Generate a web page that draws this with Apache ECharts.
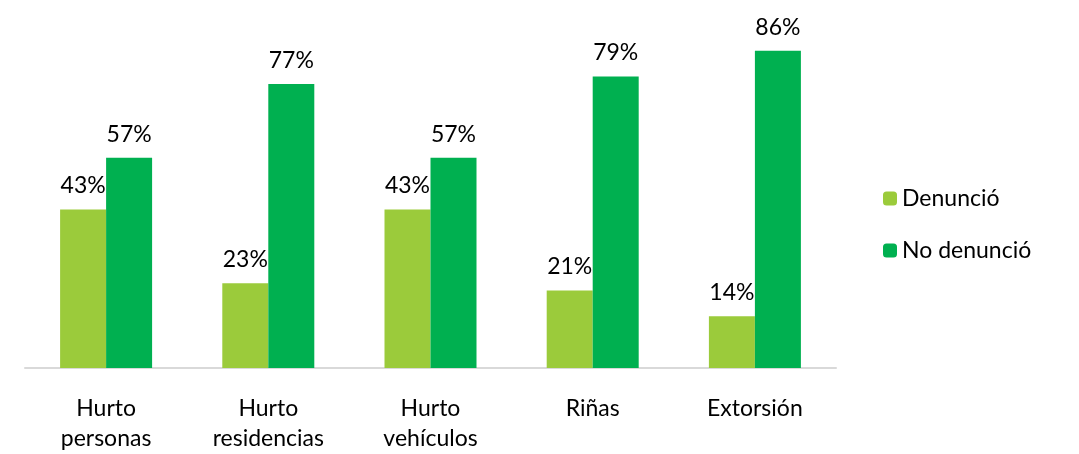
<!DOCTYPE html>
<html>
<head>
<meta charset="utf-8">
<script src="https://cdn.jsdelivr.net/npm/echarts@6/dist/echarts.min.js"></script>
<style>html,body{margin:0;padding:0;background:#fff;}#c{width:1079px;height:454px;}</style>
</head>
<body>
<div id="c"></div>
<script>
const categories = ['Hurto\npersonas', 'Hurto\nresidencias', 'Hurto\nvehículos', 'Riñas', 'Extorsión'];
const denuncio = [43, 23, 43, 21, 14];
const noDenuncio = [57, 77, 57, 79, 86];
const seriesNames = ['Denunció', 'No denunció'];

const font = 'Lato, "Open Sans", sans-serif';
const chart = echarts.init(document.getElementById('c'));
const label = {
  show: true, position: 'top', distance: 12,
  formatter: p => p.value + '%',
  fontFamily: font, fontSize: 23, color: '#000'
};
chart.setOption({
  animation: false,
  grid: { left: 25, right: 243, top: 36, bottom: 84 },
  legend: {
    orient: 'vertical', left: 878, top: 182,
    itemWidth: 14, itemHeight: 14, itemGap: 29,
    textStyle: { fontFamily: font, fontSize: 23, color: '#000' },
    data: seriesNames
  },
  xAxis: {
    type: 'category', data: categories,
    axisLine: { lineStyle: { color: '#d9d9d9', width: 2 } },
    axisTick: { show: false },
    axisLabel: { fontFamily: font, fontSize: 23, color: '#000', lineHeight: 30, margin: 26 }
  },
  yAxis: { type: 'value', min: 0, max: 90, show: false, splitLine: { show: false } },
  series: [
    { name: seriesNames[0], type: 'bar', data: denuncio, barWidth: 46, barGap: '0%',
      itemStyle: { color: '#9bcb3b' }, label: label },
    { name: seriesNames[1], type: 'bar', data: noDenuncio, barWidth: 46,
      itemStyle: { color: '#00b050' }, label: label }
  ]
});
</script>
</body>
</html>
